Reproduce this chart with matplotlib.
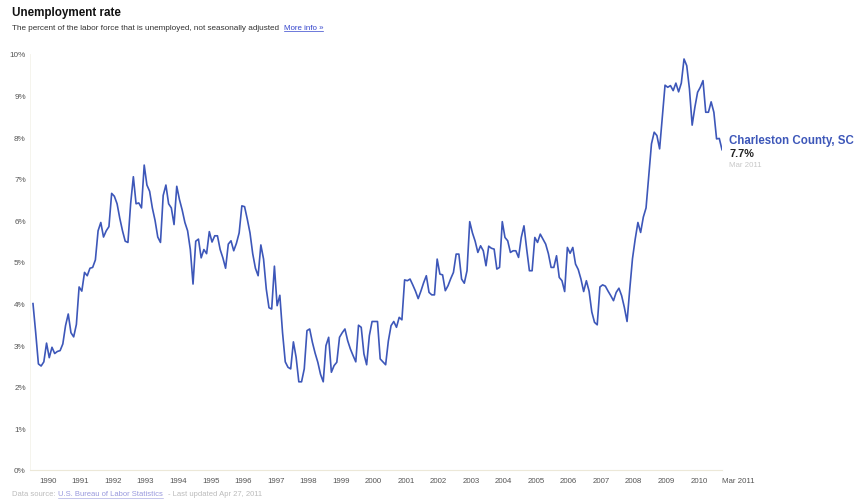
import matplotlib
matplotlib.use("Agg")
import matplotlib.pyplot as plt
import numpy as np

# Monthly unemployment rate (%), Charleston County SC, Jan 1990 - Mar 2011
y1990 = [4.0, 3.3, 2.55, 2.5, 2.6, 3.05, 2.7, 2.95, 2.8, 2.85, 2.87, 3.03]
y1991 = [3.47, 3.75, 3.3, 3.2, 3.5, 4.4, 4.3, 4.75, 4.67, 4.85, 4.87, 5.05]
y1992 = [5.75, 5.95, 5.6, 5.75, 5.85, 6.65, 6.58, 6.4, 6.05, 5.75, 5.5, 5.47]
y1993 = [6.4, 7.05, 6.4, 6.42, 6.3, 7.33, 6.85, 6.7, 6.3, 6.0, 5.6, 5.47]
y1994 = [6.6, 6.85, 6.4, 6.3, 5.9, 6.82, 6.5, 6.25, 5.95, 5.75, 5.3, 4.47]
y1995 = [5.5, 5.55, 5.1, 5.3, 5.2, 5.73, 5.48, 5.63, 5.63, 5.3, 5.1, 4.85]
y1996 = [5.43, 5.51, 5.27, 5.45, 5.7, 6.35, 6.33, 6.03, 5.7, 5.2, 4.85, 4.67]
y1997 = [5.41, 5.07, 4.35, 3.9, 3.87, 4.9, 3.95, 4.2, 3.3, 2.6, 2.47, 2.43]
y1998 = [3.08, 2.71, 2.12, 2.12, 2.43, 3.35, 3.39, 3.07, 2.81, 2.59, 2.3, 2.12]
y1999 = [2.99, 3.19, 2.35, 2.51, 2.59, 3.19, 3.3, 3.39, 3.11, 2.91, 2.75, 2.6]
y2000 = [3.48, 3.43, 2.79, 2.53, 3.23, 3.57, 3.57, 3.57, 2.67, 2.6, 2.53, 3.1]
y2001 = [3.47, 3.57, 3.43, 3.67, 3.61, 4.57, 4.55, 4.59, 4.45, 4.3, 4.12, 4.3]
y2002 = [4.5, 4.67, 4.27, 4.21, 4.21, 5.07, 4.71, 4.69, 4.31, 4.43, 4.6, 4.75]
y2003 = [5.19, 5.19, 4.59, 4.49, 4.79, 5.97, 5.7, 5.5, 5.23, 5.39, 5.27, 4.91]
y2004 = [5.38, 5.33, 5.31, 4.83, 4.87, 5.97, 5.59, 5.51, 5.23, 5.27, 5.27, 5.11]
y2005 = [5.59, 5.87, 5.31, 4.79, 4.79, 5.59, 5.47, 5.67, 5.55, 5.43, 5.2, 4.87]
y2006 = [4.87, 5.15, 4.63, 4.55, 4.29, 5.35, 5.21, 5.35, 4.95, 4.82, 4.59, 4.29]
y2007 = [4.55, 4.3, 3.8, 3.55, 3.49, 4.4, 4.45, 4.42, 4.3, 4.19, 4.07, 4.27]
y2008 = [4.37, 4.19, 3.91, 3.57, 4.35, 5.08, 5.55, 5.95, 5.71, 6.08, 6.3, 7.07]
y2009 = [7.84, 8.12, 8.04, 7.72, 8.5, 9.25, 9.2, 9.24, 9.12, 9.3, 9.09, 9.3]
y2010 = [9.88, 9.72, 9.16, 8.29, 8.72, 9.08, 9.2, 9.36, 8.6, 8.6, 8.85, 8.6]
y2011 = [7.96, 7.97, 7.7]

rate = np.array(y1990 + y1991 + y1992 + y1993 + y1994 + y1995 + y1996 + y1997
                + y1998 + y1999 + y2000 + y2001 + y2002 + y2003 + y2004 + y2005
                + y2006 + y2007 + y2008 + y2009 + y2010 + y2011)
months = np.arange(len(rate))

years = list(range(1990, 2011))
year_labels = [str(y) for y in years] + ["Mar 2011"]
yticks = list(range(0, 11))

LINE = "#3d57b9"
FONT = ["Liberation Sans", "DejaVu Sans"]
plt.rcParams["font.family"] = FONT

W, H = 855, 502
fig = plt.figure(figsize=(W / 100, H / 100), dpi=100)
ax = fig.add_axes([30 / W, 31 / H, 692 / W, 416 / H])

ax.plot(months, rate, color=LINE, lw=1.2)

ax.set_xlim(-1.1, len(rate) - 1)
ax.set_ylim(0, 10)

# ticks: years centred mid-year, last month at the end
xt = [12 * k + 5.5 for k in range(len(years))] + [len(rate) - 1]
ax.set_xticks(xt)
ax.set_xticklabels(year_labels, fontsize=5.7, color="#555555")
ax.get_xticklabels()[-1].set_ha("left")
ax.set_yticks(yticks)
ax.set_yticklabels([f"{v}%" for v in yticks], fontsize=5.9, color="#555555")
ax.tick_params(axis="x", length=0, pad=5)
ax.tick_params(axis="y", length=0, pad=3)

for s in ["top", "right"]:
    ax.spines[s].set_visible(False)
ax.spines["bottom"].set_color("#ece8d8")
ax.spines["left"].set_color("#f4f2ea")
ax.spines["bottom"].set_linewidth(0.8)
ax.spines["left"].set_linewidth(0.6)

# label at the end of the line
fig.text(729 / W, 1 - 141 / H, "Charleston County, SC", fontsize=8.3, fontweight="bold",
         color=LINE, va="center")
fig.text(729 / W, 1 - 154 / H, "7.7%", fontsize=7.8, fontweight="bold",
         color="#222222", va="center")
fig.text(729 / W, 1 - 166 / H, "Mar 2011", fontsize=5.7, color="#c8c8c8", va="center")

# header
fig.text(12 / W, 1 - 13 / H, "Unemployment rate", fontsize=8.4, fontweight="bold",
         color="#111111", va="center")
fig.text(12 / W, 1 - 28 / H,
         "The percent of the labor force that is unemployed, not seasonally adjusted",
         fontsize=5.85, color="#333333", va="center")
fig.text(284 / W, 1 - 28 / H, "More info \u00bb", fontsize=5.7, color="#3344cc", va="center")
fig.add_artist(plt.Line2D([284 / W, 323 / W], [1 - 31.5 / H, 1 - 31.5 / H],
                          color="#3344cc", lw=0.5))

# footer
fig.text(12 / W, 1 - 495 / H, "Data source:", fontsize=5.5, color="#bbbbbb", va="center")
fig.text(58 / W, 1 - 495 / H, "U.S. Bureau of Labor Statistics", fontsize=5.5,
         color="#9999dd", va="center")
fig.add_artist(plt.Line2D([58 / W, 163 / W], [1 - 498.5 / H, 1 - 498.5 / H],
                          color="#9999dd", lw=0.4))
fig.text(168 / W, 1 - 495 / H, "- Last updated Apr 27, 2011", fontsize=5.5,
         color="#bbbbbb", va="center")

fig.savefig("out.png", dpi=100)
